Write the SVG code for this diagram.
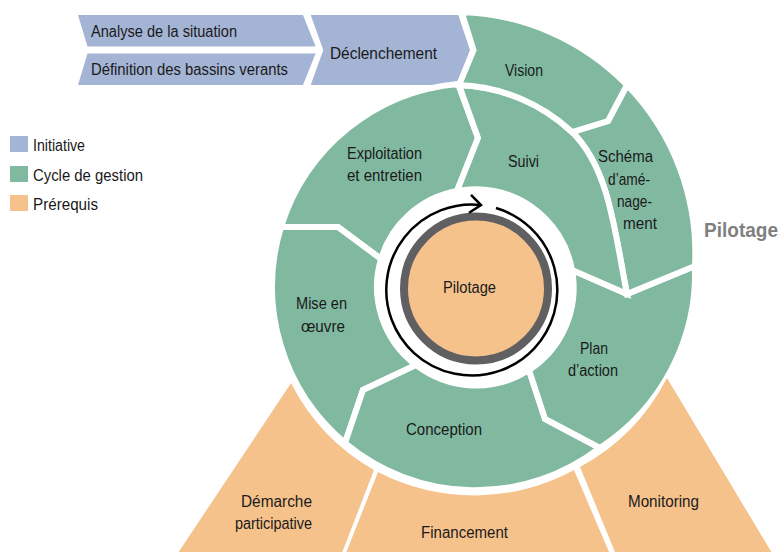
<svg xmlns="http://www.w3.org/2000/svg" width="781" height="552" viewBox="0 0 781 552">
<style>
.b{fill:#a4b4d4}
.g{fill:#80b9a0;stroke:#fff;stroke-width:6;stroke-linejoin:miter}
.o{fill:#f6c28c}
text{font-family:"Liberation Sans",Arial,sans-serif;font-size:16px;fill:#1a1a1a}
</style>
<defs>
<marker id="ah" markerUnits="userSpaceOnUse" markerWidth="24" markerHeight="24" viewBox="-16 -12 24 24" refX="0" refY="0" orient="auto">
<path d="M-11,-9 L0,0 L-11,9" fill="none" stroke="#000" stroke-width="2.5"/>
</marker>
</defs>
<rect width="781" height="552" fill="#fff"/>
<g id="legend">
<rect x="10" y="136" width="18" height="16" class="b"/>
<text x="33" y="151" textLength="52" lengthAdjust="spacingAndGlyphs">Initiative</text>
<rect x="10" y="166" width="18" height="16" fill="#80b9a0"/>
<text x="33" y="181" textLength="110" lengthAdjust="spacingAndGlyphs">Cycle de gestion</text>
<rect x="10" y="195" width="18" height="16" class="o"/>
<text x="33" y="209.5" textLength="65" lengthAdjust="spacingAndGlyphs">Prérequis</text>
</g>
<g id="analyse">
<path class="b" d="M78,15 L303,15 L315.6,46.5 L87.5,46.5 Z"/>
<text x="91" y="37.3" textLength="146" lengthAdjust="spacingAndGlyphs">Analyse de la situation</text>
</g>
<g id="definition">
<path class="b" d="M87.5,53.5 L315.6,53.5 L303,85 L78,85 Z"/>
<text x="91" y="75" textLength="197" lengthAdjust="spacingAndGlyphs">Définition des bassins verants</text>
</g>
<g id="declenchement">
<path class="b" d="M310.7,15 L458.3,15 L470,50 L458.3,85 L310.7,85 L323.3,50 Z"/>
<text x="330" y="59" textLength="107" lengthAdjust="spacingAndGlyphs">Déclenchement</text>
</g>
<g id="exploitation">
<path class="g" d="M458,84 A204,204 0 0 0 281,227 L338,227 L381,259 A98,98 0 0 1 457,191 L478,138 Z"/>
<text x="347" y="159" textLength="75" lengthAdjust="spacingAndGlyphs">Exploitation</text>
<text x="347" y="181" textLength="75" lengthAdjust="spacingAndGlyphs">et entretien</text>
</g>
<g id="mise-en-oeuvre">
<path class="g" d="M281,227 L338,227 L381,259 A98,98 0 0 0 416,365 L363,390 L345,443 A204,204 0 0 1 281,227 Z"/>
<text x="296" y="309" textLength="51" lengthAdjust="spacingAndGlyphs">Mise en</text>
<text x="301" y="332" textLength="44" lengthAdjust="spacingAndGlyphs">œuvre</text>
</g>
<g id="conception">
<path class="g" d="M345,443 L363,390 L416,365 A98,98 0 0 0 529,370 L545,419 L600,448 A204,204 0 0 1 345,443 Z"/>
<text x="406" y="435" textLength="76" lengthAdjust="spacingAndGlyphs">Conception</text>
</g>
<g id="plan-action">
<path class="g" d="M600,448 L545,419 L529,370 A98,98 0 0 0 572,270 L627,294 L695,266 A208.4,208.4 0 0 1 600,448 Z"/>
<text x="580" y="354" textLength="28" lengthAdjust="spacingAndGlyphs">Plan</text>
<text x="568" y="376" textLength="50" lengthAdjust="spacingAndGlyphs">d’action</text>
</g>
<g id="schema">
<path class="g" d="M627,294 L695,266 A241,241 0 0 0 627,85 L608,121 L572,132 C610,169 615,235 627,294 Z"/>
<text x="598" y="162" textLength="55" lengthAdjust="spacingAndGlyphs">Schéma</text>
<text x="608" y="185" textLength="42" lengthAdjust="spacingAndGlyphs">d’amé-</text>
<text x="617" y="207" textLength="35" lengthAdjust="spacingAndGlyphs">nage-</text>
<text x="623" y="229" textLength="34" lengthAdjust="spacingAndGlyphs">ment</text>
</g>
<g id="suivi">
<path class="g" d="M459,85 A175,175 0 0 1 572,132 C610,169 615,235 627,294 L572,270 A98,98 0 0 0 457,191 L478,138 Z"/>
<text x="508" y="166.5" textLength="31" lengthAdjust="spacingAndGlyphs">Suivi</text>
</g>
<g id="vision">
<path class="g" d="M461.6,12 A241,241 0 0 1 627,85 L608,121 L572,132 A175,175 0 0 0 459,85 L473.5,50 Z"/>
<text x="505" y="76" textLength="38" lengthAdjust="spacingAndGlyphs">Vision</text>
</g>
<g id="demarche">
<path class="o" d="M291,383 L178,553 L342,553 L374,470 A208.5,208.5 0 0 1 291,383 Z"/>
<text x="241" y="507" textLength="71" lengthAdjust="spacingAndGlyphs">Démarche</text>
<text x="235" y="529" textLength="77" lengthAdjust="spacingAndGlyphs">participative</text>
</g>
<g id="financement">
<path class="o" d="M378,472 A208.5,208.5 0 0 0 574,470 L609.5,553 L346,553 Z"/>
<text x="421" y="538" textLength="87" lengthAdjust="spacingAndGlyphs">Financement</text>
</g>
<g id="monitoring">
<path class="o" d="M580,467 L615.4,553 L772,553 L667,378 A211,211 0 0 1 580,467 Z"/>
<text x="628" y="507" textLength="71" lengthAdjust="spacingAndGlyphs">Monitoring</text>
</g>
<g id="pilotage">
<circle cx="476" cy="288.5" r="72" class="o" stroke="#606062" stroke-width="8"/>
<text x="443" y="293" textLength="53" lengthAdjust="spacingAndGlyphs">Pilotage</text>
</g>
<g id="connectors">
<path d="M496,208 A85.5,85.5 0 1 1 481,205" fill="none" stroke="#000" stroke-width="2.5" marker-end="url(#ah)"/>
</g>
<g id="pilotage-label">
<text x="704" y="237" textLength="74" lengthAdjust="spacingAndGlyphs" style="font-size:20px;font-weight:bold;fill:#7f7f7f">Pilotage</text>
</g>
</svg>
